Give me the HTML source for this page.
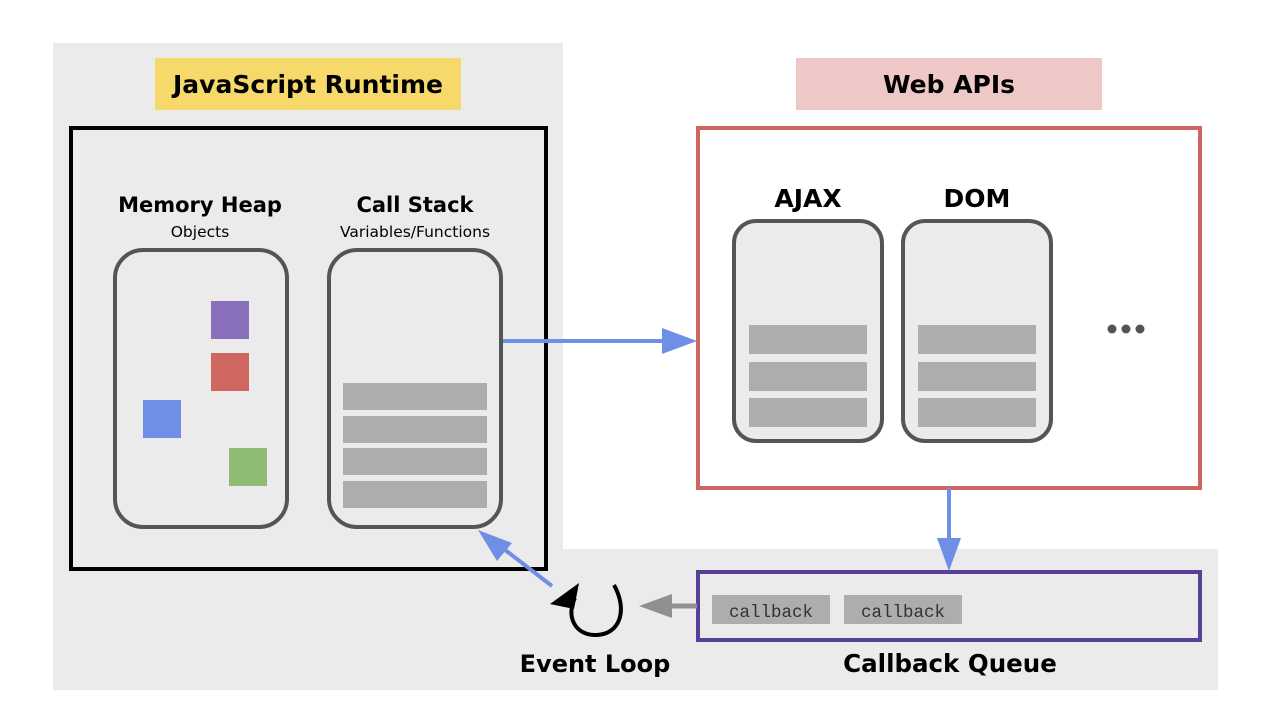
<!DOCTYPE html>
<html><head><meta charset="utf-8"><style>
html,body{margin:0;padding:0;background:#fff;width:1275px;height:719px;overflow:hidden}
text{font-family:"DejaVu Sans","Liberation Sans",sans-serif}
</style></head><body>
<svg width="1275" height="719" viewBox="0 0 1275 719" xmlns="http://www.w3.org/2000/svg">
<rect width="1275" height="719" fill="#fff"/>
<path d="M53 43 H563 V549 H1218 V690 H53 Z" fill="#ebebeb"/>
<rect x="155" y="58" width="306" height="52" fill="#f7d96b"/>
<text x="308" y="93" text-anchor="middle" font-size="25" font-weight="bold">JavaScript Runtime</text>
<rect x="71" y="128" width="475" height="441" fill="none" stroke="#000" stroke-width="4"/>
<text x="200" y="212" text-anchor="middle" font-size="21" font-weight="bold">Memory Heap</text>
<text x="200" y="237" text-anchor="middle" font-size="15.5">Objects</text>
<text x="415" y="212" text-anchor="middle" font-size="21" font-weight="bold">Call Stack</text>
<text x="415" y="237" text-anchor="middle" font-size="15.5">Variables/Functions</text>
<rect x="115" y="250" width="172" height="277" rx="28" fill="#ebebeb" stroke="#555" stroke-width="4"/>
<rect x="211" y="301" width="38" height="38" fill="#8a6fbb"/>
<rect x="211" y="353" width="38" height="38" fill="#cf6760"/>
<rect x="143" y="400" width="38" height="38" fill="#6f8fe6"/>
<rect x="229" y="448" width="38" height="38" fill="#8fbb74"/>
<rect x="329" y="250" width="172" height="277" rx="28" fill="#ebebeb" stroke="#555" stroke-width="4"/>
<g fill="#adadad"><rect x="343" y="383" width="144" height="27"/><rect x="343" y="416" width="144" height="27"/><rect x="343" y="448" width="144" height="27"/><rect x="343" y="481" width="144" height="27"/></g>
<line x1="503" y1="341" x2="665" y2="341" stroke="#6f8fe6" stroke-width="4"/>
<polygon points="662,328 697,341 662,354" fill="#6f8fe6"/>
<rect x="796" y="58" width="306" height="52" fill="#eec8c6"/>
<text x="949" y="93" text-anchor="middle" font-size="25" font-weight="bold">Web APIs</text>
<rect x="698" y="128" width="502" height="360" fill="#fff" stroke="#cf6560" stroke-width="4"/>
<text x="808" y="207" text-anchor="middle" font-size="25" font-weight="bold">AJAX</text>
<text x="977" y="207" text-anchor="middle" font-size="25" font-weight="bold">DOM</text>
<rect x="734" y="221" width="148" height="220" rx="22" fill="#ebebeb" stroke="#555" stroke-width="4"/>
<rect x="903" y="221" width="148" height="220" rx="22" fill="#ebebeb" stroke="#555" stroke-width="4"/>
<g fill="#adadad"><rect x="749" y="325" width="118" height="29"/><rect x="749" y="362" width="118" height="29"/><rect x="749" y="398" width="118" height="29"/><rect x="918" y="325" width="118" height="29"/><rect x="918" y="362" width="118" height="29"/><rect x="918" y="398" width="118" height="29"/></g>
<g fill="#555"><circle cx="1112" cy="329" r="4.5"/><circle cx="1126" cy="329" r="4.5"/><circle cx="1140" cy="329" r="4.5"/></g>
<line x1="949" y1="488" x2="949" y2="542" stroke="#6f8fe6" stroke-width="4"/>
<polygon points="937,538 961,538 949,571" fill="#6f8fe6"/>
<rect x="698" y="572" width="502" height="68" fill="#ebebeb" stroke="#5a3f9a" stroke-width="4"/>
<rect x="712" y="595" width="118" height="29" fill="#adadad"/>
<rect x="844" y="595" width="118" height="29" fill="#adadad"/>
<text x="771" y="617" text-anchor="middle" font-size="17.5" style="font-family:'Liberation Mono',monospace" fill="#333">callback</text>
<text x="903" y="617" text-anchor="middle" font-size="17.5" style="font-family:'Liberation Mono',monospace" fill="#333">callback</text>
<line x1="697" y1="606" x2="665" y2="606" stroke="#909090" stroke-width="5"/>
<polygon points="672,594 672,618 639,606" fill="#909090"/>
<line x1="552" y1="586" x2="500" y2="546" stroke="#6f8fe6" stroke-width="4"/>
<polygon points="478,530 512,543 497,561" fill="#6f8fe6"/>
<path d="M614 585 C628 610 620 634 597 635 C574 636 566 615 575 598" fill="none" stroke="#000" stroke-width="4"/>
<polygon points="550,604 579,583 574,609" fill="#000"/>
<text x="595" y="672" text-anchor="middle" font-size="24" font-weight="bold">Event Loop</text>
<text x="950" y="672" text-anchor="middle" font-size="24.5" font-weight="bold">Callback Queue</text>
</svg>
</body></html>
